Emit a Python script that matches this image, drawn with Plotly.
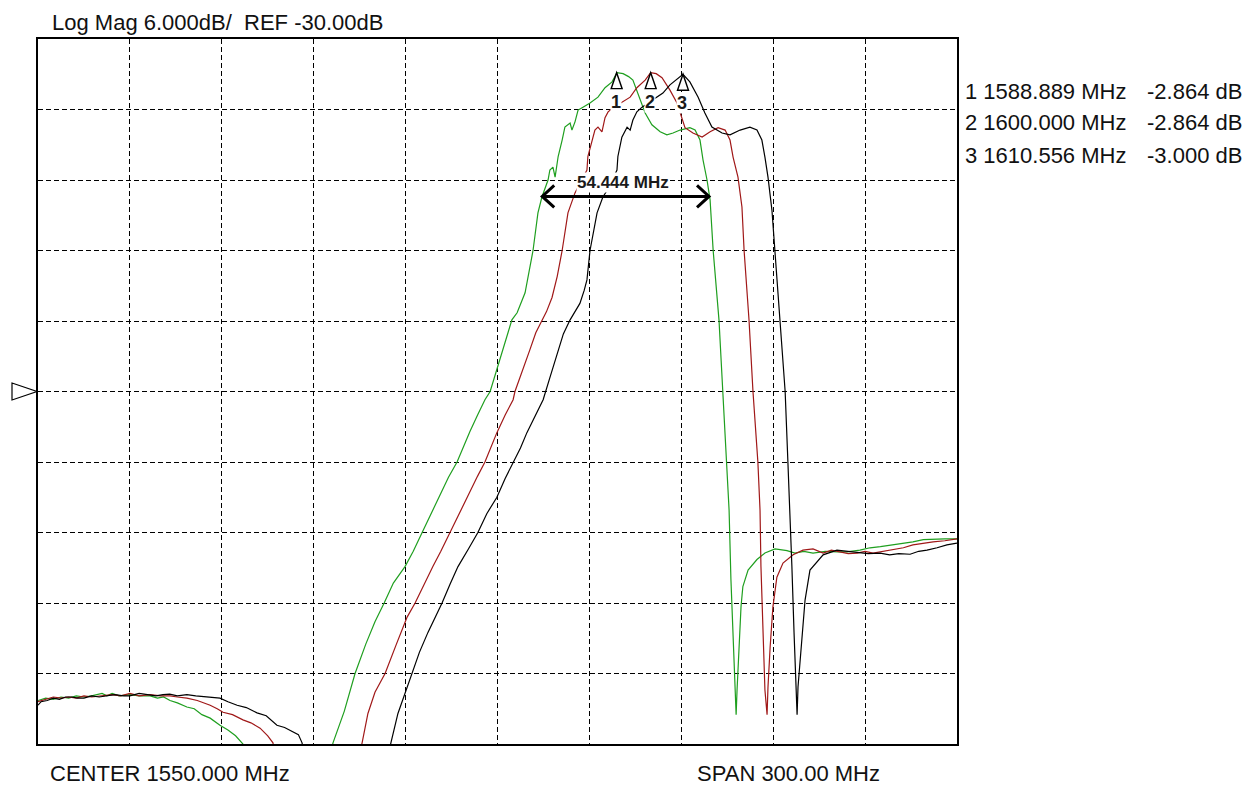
import plotly.graph_objects as go

# ---------------- instrument settings ----------------
CENTER_MHZ = 1550.0
SPAN_MHZ = 300.0
REF_DB = -30.0
SCALE_DB = 6.0
NDIV = 10

# ---------------- marker readouts ----------------
marker_ids = [1, 2, 3]
marker_freqs = [1588.889, 1600.000, 1610.556]
marker_dbs = [-2.864, -2.864, -3.000]

# ---------------- bandwidth readout ----------------
bw_mhz = 54.444
bw_start_mhz = 1564.6
bw_level_db = -13.4

# ---------------- traces (freq MHz, dB) ----------------
GREEN = [(1400.0,-56.3),(1402.5,-56.1),(1405.0,-56.2),(1407.5,-56.0),(1410.0,-56.1),(1412.5,-55.9),
 (1415.0,-56.0),(1417.5,-55.9),(1420.9,-55.7),(1422.5,-55.9),(1424.2,-55.7),(1426.5,-55.9),(1430.0,-55.8),
 (1433.0,-55.9),(1436.6,-55.9),(1439.0,-56.1),(1441.0,-56.0),(1443.1,-56.3),(1445.5,-56.5),(1448.6,-56.85),
 (1451.0,-57.0),(1453.5,-57.5),(1456.2,-57.8),(1459.4,-58.4),(1462.0,-58.8),(1464.5,-59.3),(1466.9,-60.0),
 (1468.5,-62.0),(1494.5,-62.0),(1496.3,-59.9),(1500.0,-57.2),(1503.5,-54.0),(1507.0,-51.5),(1510.0,-49.6),
 (1513.0,-48.0),(1516.0,-46.3),(1519.8,-44.9),(1522.5,-43.6),(1525.4,-42.0),(1528.0,-40.6),(1531.0,-39.0),
 (1534.0,-37.3),(1536.8,-36.0),(1539.0,-34.6),(1541.0,-33.4),(1543.5,-32.0),(1545.9,-30.7),(1547.6,-30.0),
 (1550.0,-28.0),(1552.5,-25.8),(1554.7,-23.9),(1556.4,-23.3),(1559.0,-21.6),(1561.6,-18.0),(1563.2,-14.8),
 (1564.5,-13.45),(1566.5,-12.0),(1567.1,-11.15),(1568.1,-10.9),(1568.8,-11.75),(1569.8,-10.0),(1571.1,-8.6),
 (1572.0,-7.5),(1573.7,-7.15),(1574.3,-7.75),(1575.3,-7.05),(1576.3,-6.05),(1577.9,-5.8),(1580.2,-5.45),
 (1582.8,-4.95),(1585.1,-4.15),(1587.4,-3.65),(1589.0,-2.86),(1591.0,-2.95),(1592.8,-3.2),(1594.2,-3.5),
 (1596.5,-5.2),(1598.2,-6.3),(1600.4,-7.3),(1603.1,-7.9),(1605.3,-8.15),(1607.3,-8.0),(1609.6,-7.75),
 (1612.8,-7.55),(1614.5,-7.75),(1616.1,-8.6),(1617.1,-10.3),(1618.4,-12.0),(1619.4,-13.7),(1620.4,-18.0),
 (1622.3,-23.9),(1623.6,-30.0),(1624.9,-36.0),(1625.6,-40.1),(1626.2,-46.0),(1626.9,-50.5),(1627.5,-55.4),
 (1627.9,-57.5),(1628.2,-55.4),(1628.8,-51.4),(1629.5,-48.3),(1630.1,-46.6),(1631.8,-45.2),(1634.7,-44.3),
 (1637.3,-43.75),(1640.6,-43.4),(1644.5,-43.55),(1647.1,-43.75),(1650.0,-43.6),(1653.0,-43.75),(1657.0,-43.6),
 (1661.0,-43.65),(1664.1,-43.65),(1668.3,-43.5),(1671.6,-43.3),(1675.0,-43.2),(1679.1,-43.05),(1682.0,-42.9),
 (1685.6,-42.8),(1689.0,-42.6),(1692.2,-42.55),(1696.0,-42.55),(1700.0,-42.55)]

RED = [(1400.0,-56.4),(1402.5,-56.2),(1405.0,-56.0),(1407.5,-56.1),(1410.0,-56.0),(1412.5,-56.1),(1415.0,-55.9),
 (1417.5,-56.0),(1420.9,-55.9),(1424.2,-55.8),(1427.0,-55.9),(1430.0,-55.7),(1433.0,-55.9),(1436.6,-55.8),
 (1440.0,-55.9),(1443.1,-55.9),(1445.5,-56.0),(1448.6,-56.1),(1452.0,-56.3),(1456.2,-56.7),(1458.5,-57.0),
 (1460.4,-57.3),(1463.5,-57.5),(1466.9,-57.95),(1469.5,-58.2),(1472.5,-58.65),(1475.0,-59.3),(1476.7,-59.9),
 (1478.0,-62.0),(1504.0,-62.0),(1505.8,-59.9),(1507.7,-57.4),(1510.0,-55.6),(1513.3,-54.0),(1517.0,-51.5),
 (1520.5,-49.2),(1523.1,-48.0),(1526.0,-46.4),(1528.9,-44.9),(1531.5,-43.6),(1534.5,-42.0),(1538.0,-40.1),
 (1541.0,-38.4),(1543.5,-37.2),(1545.9,-36.0),(1549.8,-33.5),(1552.5,-32.0),(1555.1,-30.7),(1555.7,-30.0),
 (1558.0,-28.4),(1560.5,-26.5),(1562.5,-25.0),(1564.5,-23.9),(1566.0,-23.2),(1567.8,-22.0),(1569.5,-20.2),
 (1571.1,-18.0),(1573.0,-14.8),(1575.3,-13.1),(1577.0,-12.2),(1579.2,-11.15),(1579.5,-10.0),(1580.9,-8.6),
 (1581.8,-7.75),(1582.8,-7.5),(1584.1,-7.9),(1585.1,-6.7),(1586.1,-6.2),(1588.0,-5.8),(1591.0,-5.35),
 (1593.3,-4.95),(1595.5,-4.15),(1598.2,-3.5),(1600.0,-2.86),(1601.8,-2.95),(1603.7,-3.3),(1606.3,-4.35),
 (1608.6,-5.45),(1610.0,-6.6),(1611.2,-7.55),(1613.8,-8.0),(1616.8,-8.35),(1619.4,-7.9),(1622.0,-7.55),
 (1624.3,-7.75),(1625.9,-8.6),(1626.9,-10.05),(1628.5,-11.75),(1629.8,-14.3),(1630.5,-18.0),(1632.1,-23.9),
 (1633.4,-30.0),(1635.0,-36.0),(1635.7,-40.1),(1636.0,-44.9),(1636.7,-50.5),(1637.3,-55.4),(1638.0,-57.5),
 (1638.3,-55.15),(1639.0,-51.75),(1639.9,-48.35),(1641.2,-45.8),(1643.2,-44.6),(1646.5,-43.9),(1649.7,-43.5),
 (1653.0,-43.4),(1656.3,-43.75),(1659.0,-43.5),(1661.8,-43.65),(1664.5,-43.8),(1667.4,-43.75),(1670.0,-43.6),
 (1672.6,-43.75),(1676.0,-43.6),(1679.1,-43.5),(1682.5,-43.3),(1685.6,-43.05),(1689.0,-42.9),(1692.2,-42.8),
 (1696.0,-42.7),(1700.0,-42.55)]

BLACK = [(1400.0,-56.7),(1401.0,-56.4),(1403.0,-56.3),(1405.0,-56.1),(1407.0,-56.2),(1409.0,-56.0),(1411.0,-56.0),
 (1413.0,-56.1),(1415.0,-56.1),(1417.5,-55.9),(1420.0,-56.0),(1422.5,-55.9),(1425.0,-55.8),(1428.0,-55.9),
 (1430.0,-55.9),(1433.0,-55.7),(1436.0,-55.8),(1438.5,-55.9),(1440.8,-55.8),(1443.0,-55.75),(1445.5,-55.9),
 (1448.6,-55.8),(1451.5,-55.9),(1455.2,-56.0),(1459.4,-56.1),(1462.0,-56.4),(1465.0,-56.7),(1468.0,-56.9),
 (1471.5,-57.35),(1474.5,-57.6),(1478.0,-58.4),(1480.5,-58.6),(1483.2,-59.0),(1485.0,-59.2),(1486.2,-59.9),
 (1487.5,-62.0),(1513.5,-62.0),(1515.2,-59.9),(1517.5,-57.4),(1519.5,-55.9),(1522.1,-54.0),(1524.5,-52.2),
 (1527.3,-50.5),(1529.5,-49.3),(1531.9,-48.0),(1534.5,-46.4),(1537.1,-44.9),(1540.5,-43.4),(1543.6,-42.0),
 (1546.5,-40.4),(1549.8,-39.0),(1552.5,-37.4),(1555.1,-36.0),(1557.5,-34.8),(1559.6,-33.5),(1562.0,-32.2),
 (1564.9,-30.7),(1567.0,-28.9),(1569.5,-26.8),(1571.5,-25.1),(1573.7,-23.9),(1576.9,-22.5),(1578.3,-21.4),
 (1579.2,-20.5),(1580.2,-18.0),(1582.5,-14.8),(1584.4,-13.45),(1586.5,-12.6),(1589.0,-11.15),(1589.3,-10.0),
 (1590.6,-8.35),(1592.3,-7.5),(1593.3,-7.75),(1594.2,-6.9),(1595.5,-6.2),(1597.2,-5.8),(1600.0,-5.3),
 (1602.0,-4.95),(1604.0,-4.6),(1606.3,-3.9),(1608.5,-3.4),(1610.556,-3.0),(1612.8,-3.65),(1615.5,-4.95),
 (1617.7,-6.3),(1620.0,-7.5),(1623.3,-8.0),(1625.9,-8.15),(1629.2,-7.75),(1632.4,-7.5),(1634.7,-7.75),
 (1636.3,-8.6),(1637.3,-10.05),(1638.3,-11.75),(1639.6,-14.6),(1640.6,-18.0),(1642.2,-23.9),(1643.9,-30.0),
 (1644.8,-36.0),(1645.5,-40.1),(1646.1,-44.9),(1646.8,-50.5),(1647.4,-55.4),(1647.8,-57.5),(1648.1,-55.15),
 (1649.4,-50.5),(1650.4,-47.75),(1652.0,-45.2),(1654.3,-44.5),(1656.3,-43.9),(1660.8,-43.5),(1664.0,-43.6),
 (1667.4,-43.65),(1671.0,-43.8),(1674.9,-43.75),(1678.0,-43.9),(1681.0,-43.8),(1684.7,-43.85),(1687.5,-43.6),
 (1690.2,-43.5),(1693.5,-43.3),(1696.7,-43.05),(1700.0,-42.9)]

TRACE_COLORS = {"green": "#1f9f1f", "red": "#a01818", "black": "#000000"}

# ---------------- geometry ----------------
W, H = 1255, 786
ML, MR, MT, MB = 38, 298, 39, 42
PW, PH = W - ML - MR, H - MT - MB
F0, F1 = CENTER_MHZ - SPAN_MHZ / 2, CENTER_MHZ + SPAN_MHZ / 2
DB_TOP, DB_BOT = REF_DB + SCALE_DB * NDIV / 2, REF_DB - SCALE_DB * NDIV / 2
MHZ_PX = SPAN_MHZ / PW
DB_PX = (DB_TOP - DB_BOT) / PH


def paper_x(px):
    return (px - ML) / PW


def paper_y(py):
    return (H - MB - py) / PH


FONT = "Liberation Sans, Arial, sans-serif"

fig = go.Figure()

for name, pts in (("green", GREEN), ("red", RED), ("black", BLACK)):
    fx, fy = zip(*pts)
    fig.add_trace(go.Scatter(x=list(fx), y=list(fy), mode="lines",
                             line=dict(color=TRACE_COLORS[name], width=1.2),
                             hoverinfo="skip", showlegend=False))

# bandwidth double arrow
xa, xb = bw_start_mhz, bw_start_mhz + bw_mhz
hx, hy = 12 * MHZ_PX, 11 * DB_PX
ax_x = [xa, xb, None, xa + hx, xa, xa + hx, None, xb - hx, xb, xb - hx]
ax_y = [bw_level_db, bw_level_db, None, bw_level_db + hy, bw_level_db, bw_level_db - hy,
        None, bw_level_db + hy, bw_level_db, bw_level_db - hy]
fig.add_trace(go.Scatter(x=ax_x, y=ax_y, mode="lines", line=dict(color="black", width=3),
                         hoverinfo="skip", showlegend=False))

shapes = []
annotations = []

# marker triangles + labels
for mid, mf, md in zip(marker_ids, marker_freqs, marker_dbs):
    tw, th = 5.5 * MHZ_PX, 16 * DB_PX
    shapes.append(dict(type="path", xref="x", yref="y", layer="above",
                       path=f"M {mf - tw},{md - th} L {mf},{md} L {mf + tw},{md - th} Z",
                       line=dict(color="black", width=1.4), fillcolor="white"))
    annotations.append(dict(x=mf, y=md, xref="x", yref="y", text=f"<b>{mid}</b>",
                            showarrow=False, yshift=-29, xshift=-1, bgcolor="white", borderpad=0,
                            font=dict(family=FONT, size=18, color="#1a1a1a")))

# bandwidth label
annotations.append(dict(x=(xa + xb) / 2, y=bw_level_db, xref="x", yref="y",
                        text=f"<b>{bw_mhz:.3f} MHz</b>", showarrow=False, yshift=14, xshift=-3,
                        bgcolor="white", borderpad=0,
                        font=dict(family=FONT, size=17, color="#1a1a1a")))

# reference level triangle on the left edge
rl = REF_DB
shapes.append(dict(type="path", xref="paper", yref="y", layer="above",
                   path=(f"M {paper_x(12)},{rl + 8.5 * DB_PX} L {paper_x(37)},{rl} "
                         f"L {paper_x(12)},{rl - 8.5 * DB_PX} Z"),
                   line=dict(color="black", width=1.2), fillcolor="white"))

# header
annotations.append(dict(x=paper_x(50), y=paper_y(22), xref="paper", yref="paper",
                        xanchor="left", yanchor="middle", showarrow=False,
                        text=f"Log Mag {SCALE_DB:.3f}dB/  REF {REF_DB:.2f}dB",
                        font=dict(family=FONT, size=22, color="#111")))

# marker list
for i, (mid, mf, md) in enumerate(zip(marker_ids, marker_freqs, marker_dbs)):
    yy = paper_y(91 + 32 * i)
    annotations.append(dict(x=paper_x(963), y=yy, xref="paper", yref="paper",
                            xanchor="left", yanchor="middle", showarrow=False,
                            text=f"{mid} {mf:.3f} MHz",
                            font=dict(family=FONT, size=22, color="#111")))
    annotations.append(dict(x=paper_x(1244), y=yy, xref="paper", yref="paper",
                            xanchor="right", yanchor="middle", showarrow=False,
                            text=f"{md:.3f} dB",
                            font=dict(family=FONT, size=22, color="#111")))

# footer
annotations.append(dict(x=paper_x(48), y=paper_y(773), xref="paper", yref="paper",
                        xanchor="left", yanchor="middle", showarrow=False,
                        text=f"CENTER {CENTER_MHZ:.3f} MHz",
                        font=dict(family=FONT, size=22, color="#111")))
annotations.append(dict(x=paper_x(695), y=paper_y(773), xref="paper", yref="paper",
                        xanchor="left", yanchor="middle", showarrow=False,
                        text=f"SPAN {SPAN_MHZ:.2f} MHz",
                        font=dict(family=FONT, size=22, color="#111")))

axis_common = dict(showticklabels=False, ticks="", showgrid=True, gridcolor="black",
                   griddash="5px,3px", gridwidth=1, zeroline=False, showline=True,
                   linecolor="black", linewidth=1.5, mirror=True, fixedrange=True)

fig.update_layout(
    width=W, height=H,
    margin=dict(l=ML, r=MR, t=MT, b=MB, pad=0),
    paper_bgcolor="white", plot_bgcolor="white",
    xaxis=dict(range=[F0, F1], tick0=F0, dtick=SPAN_MHZ / NDIV, **axis_common),
    yaxis=dict(range=[DB_BOT, DB_TOP], tick0=DB_BOT, dtick=SCALE_DB, **axis_common),
    shapes=shapes, annotations=annotations, showlegend=False,
)

fig.write_html("out.html", config={"displayModeBar": False},
               post_script="document.body.style.margin='0px';document.body.style.overflow='hidden';")
